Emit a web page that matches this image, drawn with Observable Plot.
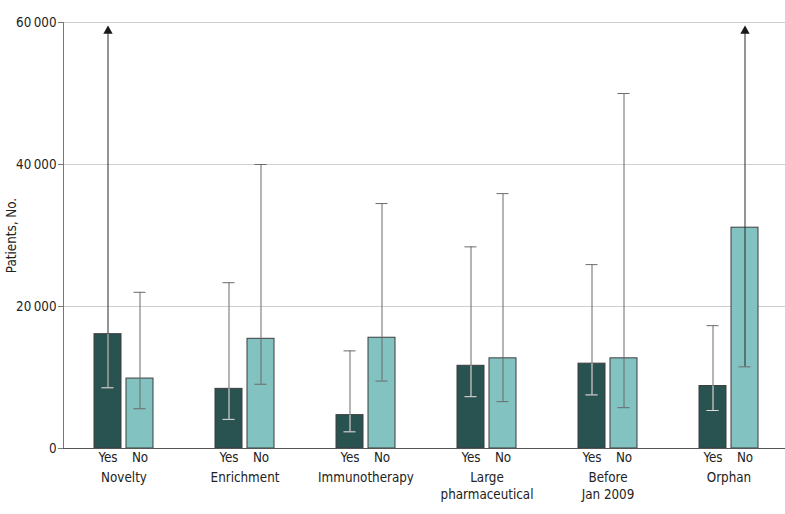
<!DOCTYPE html>
<html><head><meta charset="utf-8">
<script src="https://cdn.jsdelivr.net/npm/d3@7"></script>
<script src="https://cdn.jsdelivr.net/npm/@observablehq/plot@0.6"></script>
<style>body{margin:0;background:#fff}</style>
</head><body><div id="chart"></div>
<script>
const categories = ["Novelty", "Enrichment", "Immunotherapy", "Large\npharmaceutical", "Before\nJan 2009", "Orphan"];
const groups = ["Yes", "No"];
const yesValue = [16100, 8400, 4700, 11650, 11950, 8800];
const yesLower = [8550, 4100, 2350, 7300, 7550, 5350];
const yesUpper = [null, 23350, 13750, 28400, 25900, 17300]; // null = beyond the axis (arrow)
const noValue = [9850, 15450, 15600, 12700, 12700, 31100];
const noLower = [5600, 9050, 9500, 6600, 5750, 11500];
const noUpper = [22000, 40000, 34500, 35900, 50000, null];
const yTicks = [0, 20000, 40000, 60000];
const colors = {Yes: "#285351", No: "#82c2c1"};

const rows = categories.flatMap((c, i) => [
  {category: c, group: "Yes", value: yesValue[i], lower: yesLower[i], upper: yesUpper[i]},
  {category: c, group: "No", value: noValue[i], lower: noLower[i], upper: noUpper[i]}
]);
const yMax = d3.max(yTicks);
const yArrow = yMax * 0.98;
const capped = rows.filter(d => d.upper != null);
const open = rows.filter(d => d.upper == null);
const yesRows = rows.filter(d => d.group === "Yes");
const fmt = d => d === 0 ? "0" : d3.format(",")(d).replace(",", "\u2009");
const FS = 13.3;

const chart = Plot.plot({
  width: 785, height: 514,
  marginTop: 22, marginBottom: 66, marginLeft: 67, marginRight: 0,
  style: {fontFamily: "'DejaVu Sans Condensed', 'DejaVu Sans', sans-serif", fontStretch: "condensed", fontSize: FS + "px", color: "#222", background: "#fff"},
  fx: {domain: categories, paddingInner: 0, paddingOuter: -0.04, align: 0.55},
  x: {domain: groups, paddingInner: 0.16, paddingOuter: 0.965},
  y: {domain: [0, yMax]},
  marks: [
    Plot.gridY(yTicks.filter(v => v > 0), {stroke: "#cfcfcf", strokeOpacity: 1}),
    Plot.frame({anchor: "left", facetAnchor: "left", stroke: "#777"}),
    Plot.axisY({ticks: yTicks, tickFormat: fmt, tickSize: 5, tickPadding: 2, stroke: "#777", fontSize: FS,
      label: "Patients, No.", labelAnchor: "center", labelOffset: 57, labelArrow: false}),
    Plot.barY(rows, {fx: "category", x: "group", y: "value", fill: d => colors[d.group], stroke: "#3d3d3d", strokeWidth: 1}),
    Plot.ruleY([0], {stroke: "#555"}),
    Plot.ruleX(capped, {fx: "category", x: "group", y1: "lower", y2: "upper", stroke: "#6b6b6b"}),
    Plot.tickY(capped, {fx: "category", x: "group", y: "upper", stroke: "#6b6b6b", insetLeft: 7.5, insetRight: 7.5}),
    Plot.tickY(rows, {fx: "category", x: "group", y: "lower", stroke: "#6b6b6b", insetLeft: 7.5, insetRight: 7.5}),
    Plot.ruleX(open, {fx: "category", x: "group", y1: "lower", y2: () => yArrow, stroke: "#2a2a2a"}),
    Plot.dot(open, {fx: "category", x: "group", y: () => yArrow, symbol: "triangle", r: 3.5, fill: "#1a1a1a", stroke: null}),
    Plot.ruleX(yesRows, {fx: "category", x: "group", y1: "lower", y2: d => Math.min(d.value, d.upper ?? Infinity), stroke: "#dcdcdc"}),
    Plot.tickY(yesRows, {fx: "category", x: "group", y: "lower", stroke: "#dcdcdc", insetLeft: 7.5, insetRight: 7.5}),
    Plot.axisX({tickSize: 0, tickPadding: 4, label: null, fontSize: FS}),
    Plot.axisFx({anchor: "bottom", tickSize: 0, tickPadding: 22, label: null, lineHeight: 1.25, fontSize: FS})
  ]
});
document.getElementById("chart").append(chart);
</script>
</body></html>
